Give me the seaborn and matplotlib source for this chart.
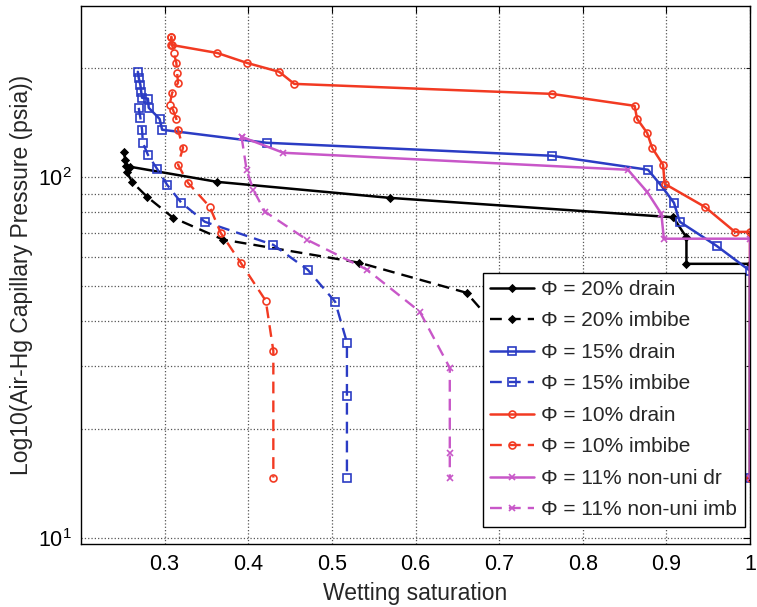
import numpy as np
import pandas as pd
import matplotlib
matplotlib.use("Agg")
import matplotlib.pyplot as plt
import matplotlib.ticker as mticker
import seaborn as sns

# ---------------- data ----------------
sat_20_drain = [0.251, 0.253, 0.254, 0.259, 0.363, 0.569, 0.908, 0.924, 0.924, 1.0, 1.0]
pc_20_drain = [117.5, 111.7, 107.5, 106.8, 97.0, 87.6, 77.4, 68.1, 57.5, 57.5, 14.7]

sat_20_imb = [0.255, 0.261, 0.279, 0.310, 0.370, 0.533, 0.661, 0.700]
pc_20_imb = [103.4, 97.0, 88.2, 77.2, 67.1, 57.9, 47.8, 37.7]

sat_15_drain = [0.268, 0.269, 0.271, 0.272, 0.273, 0.280, 0.281, 0.294, 0.297,
                0.422, 0.763, 0.878, 0.894, 0.909, 0.916, 0.960, 1.0, 1.0]
pc_15_drain = [195.8, 188.5, 180.2, 172.3, 165.9, 165.0, 155.6, 145.0, 135.3,
               124.5, 114.6, 104.8, 94.6, 84.9, 75.2, 64.5, 55.0, 14.7]

sat_15_imb = [0.269, 0.271, 0.273, 0.274, 0.280, 0.291, 0.303, 0.320, 0.348,
              0.430, 0.471, 0.504, 0.518, 0.518, 0.518]
pc_15_imb = [155.6, 146.0, 135.3, 124.5, 115.3, 105.4, 95.2, 84.9, 75.2,
             64.9, 55.4, 45.1, 34.8, 24.8, 14.7]

sat_10_drain = [0.308, 0.308, 0.363, 0.398, 0.437, 0.455, 0.763, 0.862, 0.865,
                0.877, 0.883, 0.896, 0.898, 0.946, 0.982, 1.0, 1.0]
pc_10_drain = [244.9, 232.5, 220.8, 207.4, 195.8, 181.3, 170.1, 157.6, 145.0,
               132.6, 120.5, 108.2, 95.8, 82.7, 70.5, 70.5, 14.7]

sat_10_imb = [0.308, 0.309, 0.311, 0.314, 0.315, 0.316, 0.309, 0.306, 0.310,
              0.314, 0.316, 0.322, 0.316, 0.328, 0.354, 0.367, 0.391, 0.421,
              0.430, 0.430]
pc_10_imb = [244.9, 232.5, 220.8, 207.4, 194.6, 182.4, 171.2, 158.6, 153.6,
             145.0, 135.3, 120.5, 108.2, 96.4, 82.7, 70.1, 57.9, 45.4, 33.0, 14.7]

sat_11_dr = [0.392, 0.442, 0.854, 0.877, 0.894, 0.897, 1.0, 1.0]
pc_11_dr = [129.3, 116.8, 104.8, 91.0, 79.1, 67.5, 67.5, 14.7]

sat_11_imb = [0.392, 0.398, 0.406, 0.420, 0.470, 0.542, 0.605, 0.641, 0.641, 0.641]
pc_11_imb = [129.3, 104.8, 92.2, 80.2, 67.1, 55.4, 42.4, 29.6, 17.2, 14.7]

labels = ["Φ = 20% drain", "Φ = 20% imbibe", "Φ = 15% drain", "Φ = 15% imbibe",
          "Φ = 10% drain", "Φ = 10% imbibe", "Φ = 11% non-uni dr", "Φ = 11% non-uni imb"]

x_ticks = [0.3, 0.4, 0.5, 0.6, 0.7, 0.8, 0.9, 1.0]
x_tick_labels = ["0.3", "0.4", "0.5", "0.6", "0.7", "0.8", "0.9", "1"]

# ---------------- styling ----------------
sns.set_style("white")
plt.rcParams['font.family'] = ['Liberation Sans', 'DejaVu Sans']
plt.rcParams['mathtext.fontset'] = 'custom'
plt.rcParams['mathtext.rm'] = 'Liberation Sans'

BLACK = "#000000"
BLUE = "#2b3cc4"
RED = "#f23a22"
MAGENTA = "#c857c8"

fig = plt.figure(figsize=(7.57, 6.07), dpi=100)
ax = fig.add_axes([81 / 757, 1 - 544 / 607, (750 - 81) / 757, (544 - 6) / 607])

series = [
    (sat_20_drain, pc_20_drain, BLACK, "-", "D", 3.5, True),
    (sat_20_imb, pc_20_imb, BLACK, (0, (5, 3)), "D", 3.5, True),
    (sat_15_drain, pc_15_drain, BLUE, "-", "s", 6, False),
    (sat_15_imb, pc_15_imb, BLUE, (0, (5, 3)), "s", 6, False),
    (sat_10_drain, pc_10_drain, RED, "-", "o", 5, False),
    (sat_10_imb, pc_10_imb, RED, (0, (5, 3)), "o", 5, False),
    (sat_11_dr, pc_11_dr, MAGENTA, "-", "x", 5, False),
    (sat_11_imb, pc_11_imb, MAGENTA, (0, (5, 3)), "x", 5, False),
]

for (xs, ys, col, ls, mk, ms, filled), lab in zip(series, labels):
    lw = 1.8 if ls == "-" else 1.7
    sns.lineplot(x=xs, y=ys, ax=ax, sort=False, estimator=None, color=col,
                 linestyle=ls, linewidth=lw, marker=mk, markersize=ms,
                 markerfacecolor=col if filled else "none",
                 markeredgecolor=col, markeredgewidth=1.2, label=lab)

ax.set_yscale("log")
ax.set_xlim(0.2, 1.0)
ax.set_ylim(9.62, 298)
ax.set_xticks(x_ticks)
ax.set_xticklabels(x_tick_labels)
ax.yaxis.set_major_locator(mticker.LogLocator(base=10))
ax.yaxis.set_minor_locator(mticker.LogLocator(base=10, subs=np.arange(2, 10)))
ax.yaxis.set_minor_formatter(mticker.NullFormatter())

ax.tick_params(axis="both", which="both", direction="in", labelsize=15.5,
               top=True, right=True, colors="black")
ax.tick_params(axis="both", which="major", length=5, pad=7)
ax.tick_params(axis="y", which="minor", length=3)

ax.xaxis.grid(True, which="major", linestyle=":", color="#555555", linewidth=0.9)
ax.yaxis.grid(True, which="both", linestyle=":", color="#555555", linewidth=0.9)
ax.set_axisbelow(True)

for sp in ax.spines.values():
    sp.set_color("black")
    sp.set_linewidth(1.0)
    sp.set_visible(True)

ax.set_xlabel("Wetting saturation", fontsize=16.5, labelpad=5)
ax.set_ylabel("Log10(Air-Hg Capillary Pressure (psia))", fontsize=16.5, labelpad=3)

leg = ax.legend(loc="lower right", bbox_to_anchor=(0.992, 0.032), fontsize=15,
                frameon=True, fancybox=False, edgecolor="black", framealpha=1,
                handlelength=2.1, labelspacing=0.6, borderpad=0.35,
                handletextpad=0.35, borderaxespad=0)
leg.get_frame().set_linewidth(1.0)

fig.savefig("out.png", dpi=100)
